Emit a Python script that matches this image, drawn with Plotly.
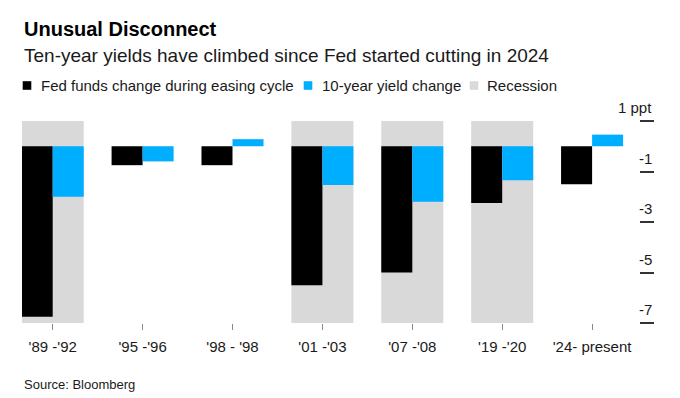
import plotly.graph_objects as go

# ---------------- data ----------------
categories = ["'89 -'92", "'95 -'96", "'98 - '98", "'01 -'03", "'07 -'08", "'19 -'20", "'24- present"]
fed_funds_change = [-6.75, -0.75, -0.75, -5.5, -5.0, -2.25, -1.5]
ten_year_change = [-2.0, -0.6, 0.28, -1.53, -2.2, -1.35, 0.46]
recession = [True, False, False, True, True, True, False]
y_ticks = [1, -1, -3, -5, -7]
y_tick_labels = ["1 ppt", "-1", "-3", "-5", "-7"]
y_min, y_max = -7, 1
series_names = ["Fed funds change during easing cycle", "10-year yield change", "Recession"]

# ---------------- layout constants ----------------
W, H = 680, 398
ML, MR, MT, MB = 22, 41, 121, 75
PW = W - ML - MR
PH = H - MT - MB
CAT_STEP = 89.9          # px between category centres
FIRST_CENTER = 52.7      # px of first category centre

def px_x(px):
    return (px - ML) / PW

def px_y(py):
    return (H - MB - py) / PH

FONT = "Liberation Sans, Arial, Helvetica, sans-serif"
TEXT = "#1a1a1a"
BLACK = "#000000"
BLUE = "#00AEFF"
GREY = "#D9D9D9"
HALF = 0.345

fig = go.Figure()

rec_heights = [(y_max - y_min) if r else None for r in recession]
fig.add_bar(x=categories, y=rec_heights, base=y_min, width=2 * HALF, offset=-HALF,
            marker=dict(color=GREY, line_width=0), name=series_names[2], showlegend=False)
fig.add_bar(x=categories, y=fed_funds_change, width=HALF, offset=-HALF,
            marker=dict(color=BLACK, line_width=0), name=series_names[0], showlegend=False)
fig.add_bar(x=categories, y=ten_year_change, width=HALF, offset=0,
            marker=dict(color=BLUE, line_width=0), name=series_names[1], showlegend=False)

x0 = (ML - FIRST_CENTER) / CAT_STEP
x1 = (ML + PW - FIRST_CENTER) / CAT_STEP

annotations = []
shapes = []

# titles
annotations.append(dict(text="<b>Unusual Disconnect</b>", x=0, y=px_y(28.5), xref="paper", yref="paper",
                        xanchor="left", yanchor="middle", showarrow=False,
                        font=dict(family=FONT, size=20, color="#000")))
annotations.append(dict(text="Ten-year yields have climbed since Fed started cutting in 2024", x=0, y=px_y(56),
                        xref="paper", yref="paper", xanchor="left", yanchor="middle", showarrow=False,
                        font=dict(family=FONT, size=19, color=TEXT)))
# legend (custom)
legend_items = [(series_names[0], BLACK, 27, 39), (series_names[1], BLUE, 308, 319.5), (series_names[2], GREY, 474, 485)]
LEG_Y = 85.5
for name, col, cx, tx in legend_items:
    shapes.append(dict(type="rect", xref="paper", yref="paper",
                       x0=px_x(cx - 4.3), x1=px_x(cx + 4.3), y0=px_y(LEG_Y + 4.3), y1=px_y(LEG_Y - 4.3),
                       fillcolor=col, line_width=0))
    annotations.append(dict(text=name, x=px_x(tx), y=px_y(LEG_Y), xref="paper", yref="paper",
                            xanchor="left", yanchor="middle", showarrow=False,
                            font=dict(family=FONT, size=15, color=TEXT)))
# y labels
for v, t in zip(y_ticks, y_tick_labels):
    annotations.append(dict(text=t, x=px_x(654), y=v, xref="paper", yref="y", xanchor="right",
                            yanchor="bottom", yshift=3, showarrow=False,
                            font=dict(family=FONT, size=15, color=TEXT)))
# source
annotations.append(dict(text="Source: Bloomberg", x=0, y=px_y(384), xref="paper", yref="paper",
                        xanchor="left", yanchor="middle", showarrow=False,
                        font=dict(family=FONT, size=13, color=TEXT)))

fig.update_layout(
    width=W, height=H,
    margin=dict(l=ML, r=MR, t=MT, b=MB, pad=0),
    paper_bgcolor="white", plot_bgcolor="white",
    barmode="overlay",
    showlegend=False,
    annotations=annotations,
    shapes=shapes,
    font=dict(family=FONT, color=TEXT),
    xaxis=dict(type="category", range=[x0, x1], showgrid=False, zeroline=False, showline=False,
               ticks="outside", ticklen=6, tickwidth=1, tickcolor="#888",
               tickfont=dict(family=FONT, size=15, color=TEXT), ticklabelstandoff=4, fixedrange=True),
    yaxis=dict(range=[y_min, y_max], side="right", tickvals=y_ticks, showticklabels=False,
               ticks="outside", ticklen=14, tickwidth=2, tickcolor="#333",
               showgrid=False, zeroline=False, showline=False, fixedrange=True),
)

fig.write_html("out.html", config={"displayModeBar": False},
               post_script="document.body.style.margin='0';document.body.style.overflow='hidden';")
